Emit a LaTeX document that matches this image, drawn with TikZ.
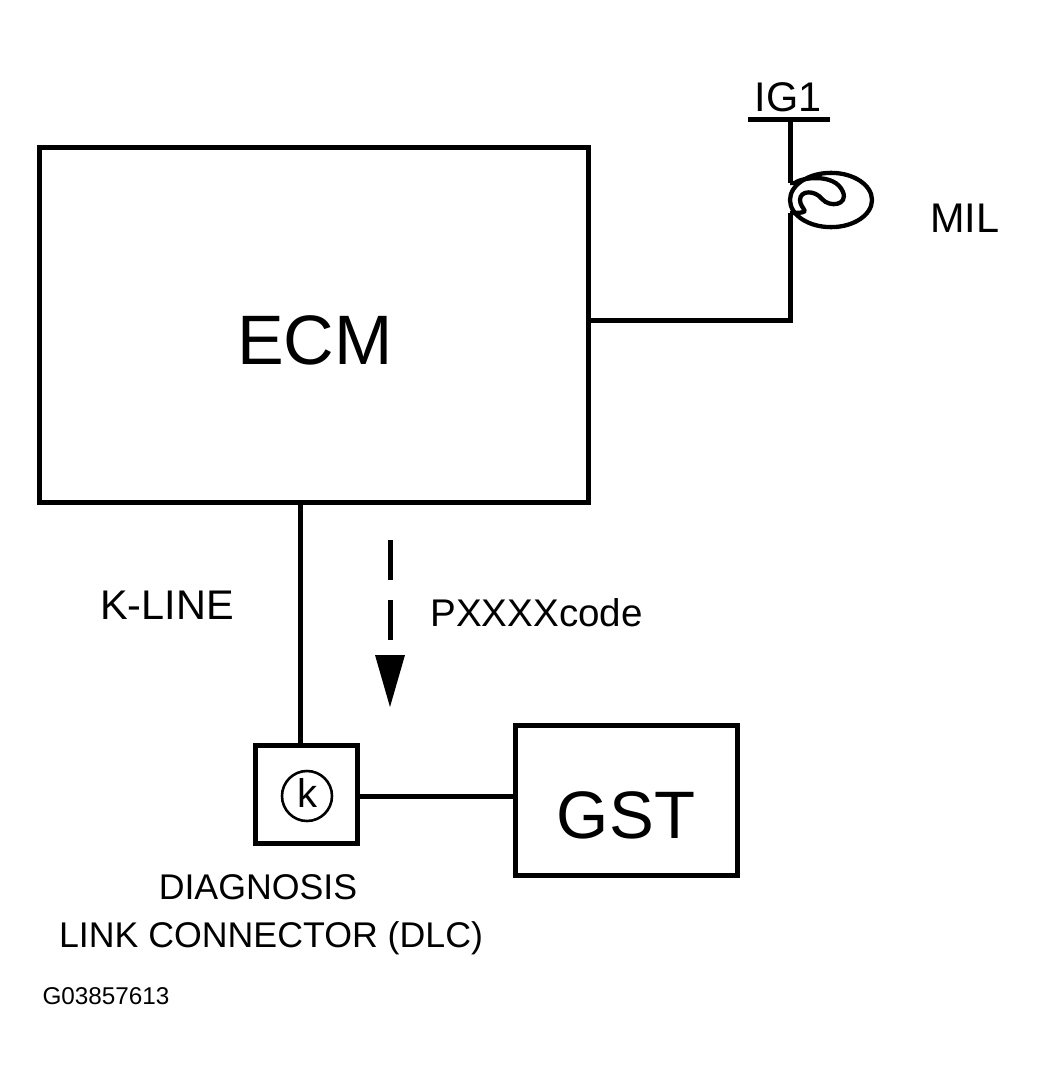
\documentclass[tikz,border=0pt]{standalone}
\usepackage{fontspec}
\setmainfont{Liberation Sans}
\usetikzlibrary{arrows.meta}
\begin{document}
\begin{tikzpicture}[x=0.7pt,y=-0.7pt,line width=3.5pt,
    unit/.style={draw,line width=3.5pt,inner sep=0pt},
    lbl/.style={inner sep=0pt}]

    \useasboundingbox (0,0) rectangle (1044,1076);

    % the boxes
    \node[unit,minimum width=383.6pt,minimum height=248.5pt] (ecm) at (314,325) {};
    \node[lbl,font=\fontsize{49}{55}\selectfont] at (315,340) {ECM};
    \node[unit,minimum width=71.4pt,minimum height=68.6pt] (dlc) at (306,794) {};
    \node[unit,circle,minimum size=35pt,line width=1.8pt,font=\fontsize{28}{30}\selectfont] (k) at (307,796) {};
    \node[lbl,font=\fontsize{28}{30}\selectfont] at (307,793) {k};
    \node[unit,minimum width=155.4pt,minimum height=105pt] (gst) at (626,800) {};
    \node[lbl,font=\fontsize{47}{52}\selectfont] at (626,815) {GST};

    % the lamp
    \coordinate (ig) at (790,120);
    \coordinate (l1) at (790,183);
    \coordinate (l2) at (790,213);
    \draw (748,120) -- (830,120);
    \node[lbl,font=\fontsize{29}{32}\selectfont,anchor=south] at (788,114) {IG1};
    \draw (ig) -- (l1);
    \draw[line width=3pt] (831,200) ellipse (41pt*0.7/0.7*0.7 and 19pt);
    \draw[line width=3pt] (l1) -- (795,183) .. controls (800,178) and (835,172) .. (843,192)
        .. controls (848,205) and (830,208) .. (822,199)
        .. controls (815,190) and (800,190) .. (800,200)
        .. controls (800,210) and (815,213) .. (l2);
    \node[lbl,font=\fontsize{29}{32}\selectfont] at (965,218) {MIL};

    % the wires
    \draw (ecm.east |- 0,320) -- (790,320) -- (l2);
    \draw (ecm.south -| 300,0) -- (dlc.north -| 300,0);
    \draw (dlc.east |- k) -- (gst.west |- k);
    \draw[dashed,dash pattern=on 28pt off 14pt] (390,540) -- (390,660);
    \fill (375,655) -- (405,655) -- (390,707) -- cycle;

    % the texts
    \node[lbl,font=\fontsize{29}{32}\selectfont] at (167,605) {K-LINE};
    \node[lbl,anchor=west,font=\fontsize{27}{30}\selectfont] at (428,613) {PXXXXcode};
    \node[lbl,font=\fontsize{25}{28}\selectfont] at (258,887) {DIAGNOSIS};
    \node[lbl,font=\fontsize{25}{28}\selectfont] at (271,938) {LINK CONNECTOR (DLC)};
    \node[lbl,anchor=west,font=\fontsize{17}{20}\selectfont] at (40,996) {G03857613};

\end{tikzpicture}
\end{document}
